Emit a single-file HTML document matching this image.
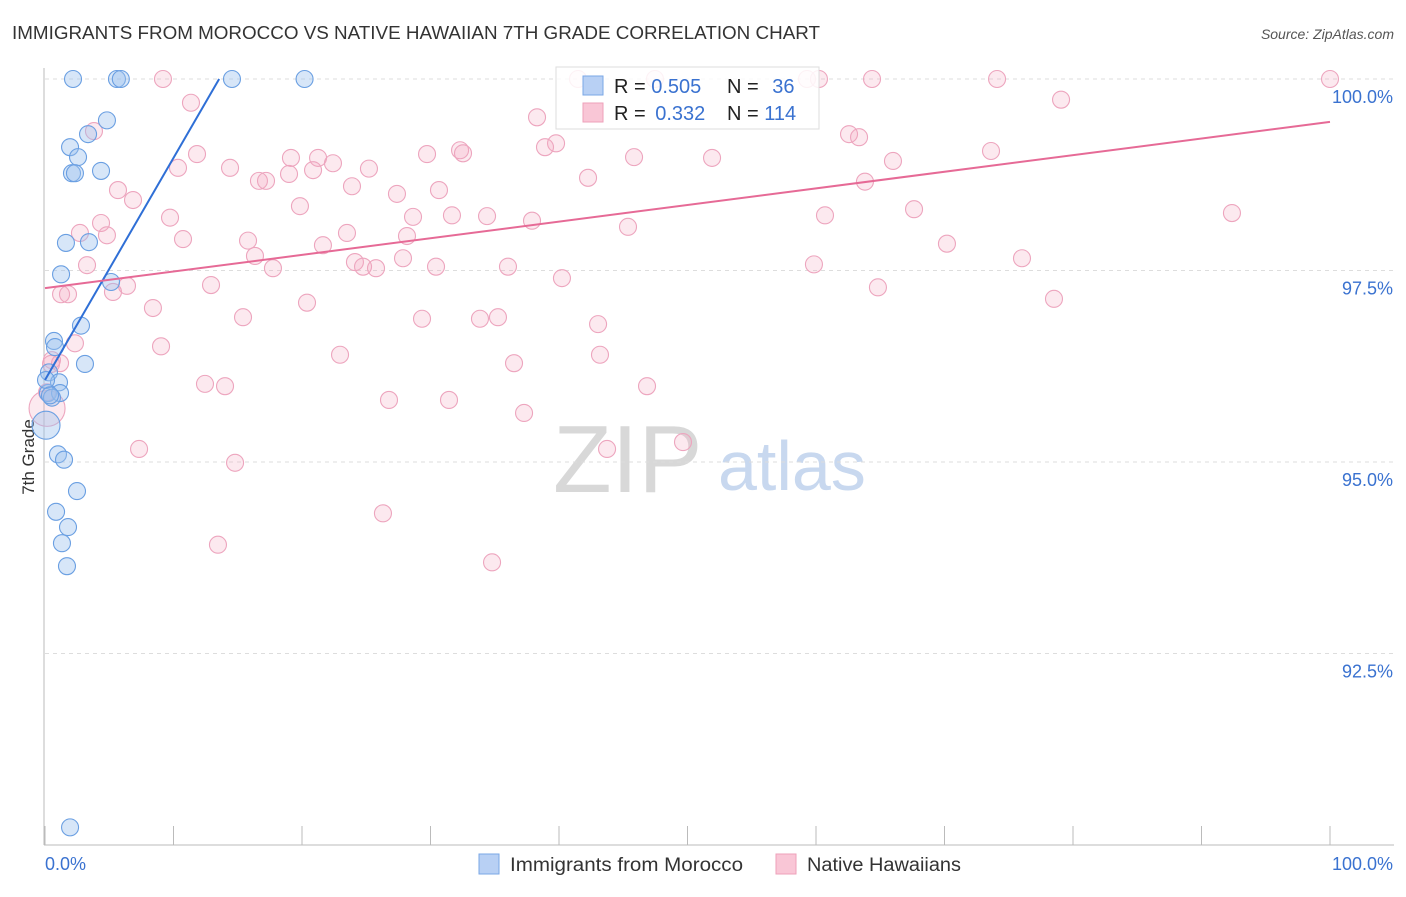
<!DOCTYPE html>
<html><head><meta charset="utf-8"><style>
body{margin:0;background:#fff;font-family:"Liberation Sans",sans-serif;}
svg text{font-family:"Liberation Sans",sans-serif;}
</style></head><body>
<svg width="1406" height="892" id="chart">
<text x="12" y="39" font-size="18" fill="#333" textLength="808" lengthAdjust="spacingAndGlyphs">IMMIGRANTS FROM MOROCCO VS NATIVE HAWAIIAN 7TH GRADE CORRELATION CHART</text>
<text x="1394" y="39" font-size="14" fill="#555" text-anchor="end" font-style="italic">Source: ZipAtlas.com</text>
<text x="553" y="492" font-size="96" fill="#d8d8d8" font-family="Liberation Serif,serif">ZIP</text>
<text x="718" y="490" font-size="70" fill="#c8d8ef">atlas</text>
<text transform="translate(34,457) rotate(-90)" font-size="17" fill="#333" text-anchor="middle">7th Grade</text>
<g id="grid"></g><g id="pink"></g><g id="blue"></g><g id="lines"></g>
<g>
<rect x="556" y="67" width="263" height="62" fill="#fff" fill-opacity="0.85" stroke="#ddd"/>
<rect x="583" y="76" width="20" height="19" fill="#b8d0f4" stroke="#7aa7e6"/>
<rect x="583" y="103" width="20" height="19" fill="#f9c6d6" stroke="#eea0ba"/>
<text x="614" y="93" font-size="20" fill="#222">R = <tspan fill="#3a72d0">0.505</tspan></text>
<text x="727" y="93" font-size="20" fill="#222">N = <tspan fill="#3a72d0" dx="8">36</tspan></text>
<text x="614" y="120" font-size="20" fill="#222">R = <tspan fill="#3a72d0" dx="4">0.332</tspan></text>
<text x="727" y="120" font-size="20" fill="#222">N = <tspan fill="#3a72d0">114</tspan></text>
</g>
<g>
<rect x="479" y="854" width="20" height="20" fill="#b8d0f4" stroke="#7aa7e6"/>
<text x="510" y="871" font-size="19" fill="#333" textLength="233" lengthAdjust="spacingAndGlyphs">Immigrants from Morocco</text>
<rect x="776" y="854" width="20" height="20" fill="#f9c6d6" stroke="#eea0ba"/>
<text x="807" y="871" font-size="19" fill="#333" textLength="154" lengthAdjust="spacingAndGlyphs">Native Hawaiians</text>
</g>
</svg>
<script>
const yTicks=[100,97.5,95,92.5];
const yTickLabels=["100.0%","97.5%","95.0%","92.5%"];
const blueX=[2.18,5.6,5.9,14.55,20.2,4.82,3.35,1.95,2.57,2.1,2.33,4.36,1.63,3.42,1.25,5.14,2.8,0.7,0.78,3.11,0.31,1.09,0.23,1.17,0.54,0.08,1.01,1.48,2.49,0.86,1.79,1.32,1.71,1.95,0.08,0.39];
const blueY=[100,100,100,100,100,99.46,99.28,99.11,98.98,98.77,98.77,98.8,97.86,97.87,97.45,97.35,96.78,96.58,96.5,96.28,96.17,96.04,95.9,95.9,95.84,95.48,95.1,95.03,94.62,94.35,94.15,93.94,93.64,90.23,96.07,95.87];
const pinkX=[9.18,41.48,47.47,59.3,60.23,64.36,74.09,100,79.07,11.36,3.81,38.29,62.57,63.35,39.77,38.91,32.3,32.53,11.83,19.14,21.25,22.41,29.73,45.84,51.91,73.62,65.99,10.35,14.4,20.86,25.21,16.65,17.2,18.99,42.26,63.81,5.68,23.89,27.39,30.66,6.85,19.84,67.63,92.37,4.36,9.73,28.64,31.67,34.4,37.9,60.7,45.37,2.72,4.82,10.74,15.8,23.5,28.17,21.63,70.19,16.34,27.86,76.03,3.27,17.74,24.12,24.75,25.76,30.43,36.03,59.84,40.23,6.38,12.92,64.82,1.25,1.79,5.29,78.52,20.39,8.4,15.41,29.34,33.85,35.25,43.04,2.33,9.03,22.96,43.19,0.54,36.5,12.45,14.01,46.85,26.77,31.44,37.28,0.16,7.32,49.65,43.74,14.79,26.3,13.46,34.79,1.17,0.47,0.16];
const pinkY=[100,100,100,100,100,100,100,100,99.73,99.69,99.32,99.5,99.28,99.24,99.16,99.11,99.07,99.03,99.02,98.97,98.97,98.9,99.02,98.98,98.97,99.06,98.93,98.84,98.84,98.81,98.83,98.67,98.67,98.76,98.71,98.66,98.55,98.6,98.5,98.55,98.42,98.34,98.3,98.25,98.12,98.19,98.2,98.22,98.21,98.15,98.22,98.07,97.99,97.96,97.91,97.89,97.99,97.95,97.83,97.85,97.69,97.66,97.66,97.57,97.53,97.61,97.55,97.53,97.55,97.55,97.58,97.4,97.3,97.31,97.28,97.19,97.19,97.22,97.13,97.08,97.01,96.89,96.87,96.87,96.89,96.8,96.55,96.51,96.4,96.4,96.33,96.29,96.02,95.99,95.99,95.81,95.81,95.64,95.7,95.17,95.26,95.17,94.99,94.33,93.92,93.69,96.29,96.28,95.91];
const blueLine=[96.07,0.29];
const pinkLine=[97.27,99.44];
const NS="http://www.w3.org/2000/svg";
const sx=v=>45+v*12.85;
const sy=v=>79+(100-v)*76.6;
function mk(tag,attrs,parent){const e=document.createElementNS(NS,tag);for(const k in attrs)e.setAttribute(k,attrs[k]);document.getElementById(parent).appendChild(e);return e;}
let ax=mk('line',{x1:44,y1:68,x2:44,y2:845,stroke:'#bbb'},'grid');


let bx=mk('line',{x1:44,y1:845,x2:1394,y2:845,stroke:'#bbb'},'grid');


yTicks.forEach((t,i)=>{
 let g=mk('line',{x1:45,x2:1394,y1:sy(t),y2:sy(t),stroke:'#ddd','stroke-dasharray':'4,4'},'grid');
 
 
 let l=mk('text',{x:1393,y:sy(t)+24,'font-size':18,fill:'#3a72d0','text-anchor':'end'},'grid');
 l.textContent=yTickLabels[i];
 
 
});
for(let i=0;i<=10;i++){
 let t=mk('line',{x1:sx(i*10),x2:sx(i*10),y1:826,y2:845,stroke:'#bbb'},'grid');
 
 
}
let x0=mk('text',{x:45,y:870,'font-size':18,fill:'#3a72d0'},'grid');x0.textContent='0.0%';


let x1=mk('text',{x:1393,y:870,'font-size':18,fill:'#3a72d0','text-anchor':'end'},'grid');x1.textContent='100.0%';


pinkX.forEach((x,i)=>{
 const big=(x<0.3&&Math.abs(pinkY[i]-95.7)<0.05);
 let c=mk('circle',{cx:sx(x),cy:sy(pinkY[i]),r:big?18:8.5,fill:'#f4a8c0','fill-opacity':0.25,stroke:'#eda5be','stroke-width':1.1},'pink');
 
 
});
blueX.forEach((x,i)=>{
 const big=(x<0.1&&Math.abs(blueY[i]-95.48)<0.05);
 let c=mk('circle',{cx:sx(x),cy:sy(blueY[i]),r:big?14:8.5,fill:'#9cc0ee','fill-opacity':0.4,stroke:'#6a9fe2','stroke-width':1.1},'blue');
 
 
});
const bxEnd=(100-blueLine[0])/blueLine[1];
let bl=mk('line',{x1:sx(0),y1:sy(blueLine[0]),x2:sx(bxEnd),y2:sy(100),stroke:'#2f6fd6','stroke-width':2},'lines');


let pl=mk('line',{x1:sx(0),y1:sy(pinkLine[0]),x2:sx(100),y2:sy(pinkLine[1]),stroke:'#e66a96','stroke-width':2},'lines');


</script>
</body></html>
